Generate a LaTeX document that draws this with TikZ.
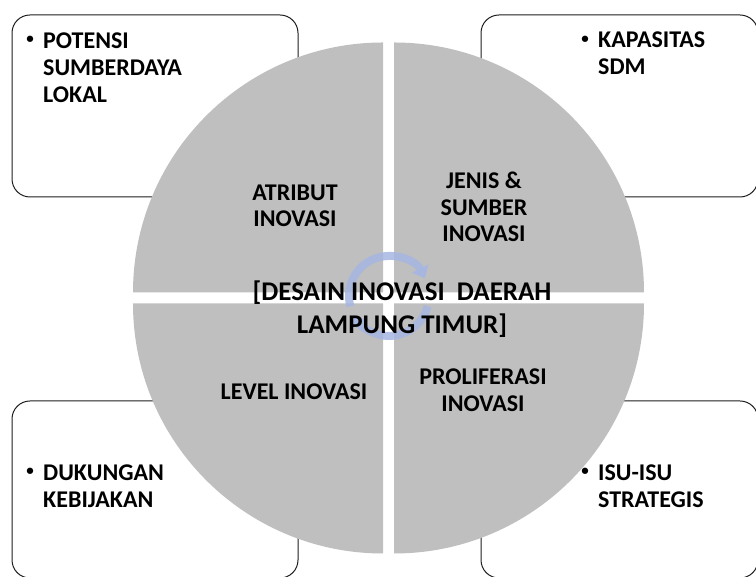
\documentclass[tikz,border=0pt]{standalone}
\usepackage{fontspec}
\setmainfont{Carlito}
\usetikzlibrary{arrows.meta}
\definecolor{quadgray}{RGB}{191,191,191}
\definecolor{arrowblue}{RGB}{166,182,226}
\definecolor{boxline}{RGB}{30,30,30}
\tikzset{
  sidebox/.style={draw=boxline, line width=1pt, fill=white, rounded corners=18pt},
  quad/.style={fill=quadgray},
  quadlabel/.style={align=center, inner sep=0pt, font=\bfseries\fontsize{24}{26.5}\selectfont},
  bullettext/.style={align=left, anchor=north west, inner sep=0pt, font=\bfseries\fontsize{24}{27}\selectfont},
  bulletdot/.style={inner sep=0pt, font=\bfseries\fontsize{15}{18}\selectfont},
  cyclearrow/.style={draw=arrowblue, line width=8pt, opacity=0.85, -{Triangle[width=18pt,length=11pt]}},
  centerlabel/.style={align=center, inner sep=0pt, font=\bfseries\fontsize{27}{33}\selectfont}
}
\begin{document}
\begin{tikzpicture}[x=1pt,y=1pt]
\useasboundingbox (0,0) rectangle (756,577);
% side boxes
\draw[sidebox] (12,562) rectangle (298,380);
\draw[sidebox] (481,562) rectangle (758,380);
\draw[sidebox] (12,176) rectangle (298,-1);
\draw[sidebox] (481,176) rectangle (758,-1);
% bullet texts
\node[bulletdot] (dTL) at (30,537) {\textbullet};
\node[bullettext] (tTL) at (43,544.5) {POTENSI\\SUMBERDAYA\\LOKAL};
\node[bulletdot] (dTR) at (585,537) {\textbullet};
\node[bullettext] (tTR) at (598,545.5) {KAPASITAS\\SDM};
\node[bulletdot] (dBL) at (30,105) {\textbullet};
\node[bullettext] (tBL) at (43,112.5) {DUKUNGAN\\KEBIJAKAN};
\node[bulletdot] (dBR) at (585,105) {\textbullet};
\node[bullettext] (tBR) at (598,112.5) {ISU-ISU\\STRATEGIS};
% quadrants
\coordinate (cTL) at (383,284.5);
\coordinate (cTR) at (394,284.5);
\coordinate (cBL) at (383,273.5);
\coordinate (cBR) at (394,273.5);
\fill[quad] (cTL) -- ++(-250,0) arc[start angle=180,end angle=90,radius=250] -- cycle;
\fill[quad] (cTR) -- ++(0,250) arc[start angle=90,end angle=0,radius=250] -- cycle;
\fill[quad] (cBL) -- ++(0,-250) arc[start angle=270,end angle=180,radius=250] -- cycle;
\fill[quad] (cBR) -- ++(250,0) arc[start angle=0,end angle=-90,radius=250] -- cycle;
% quadrant labels
\node[quadlabel] (qTL) at (295,371) {ATRIBUT\\INOVASI};
\node[quadlabel] (qTR) at (484,370) {JENIS \&\\SUMBER\\INOVASI};
\node[quadlabel] (qBL) at (294,185) {LEVEL INOVASI};
\node[quadlabel] (qBR) at (483,187) {PROLIFERASI\\INOVASI};
% central cycle arrows
\coordinate (cc) at (389,281);
\draw[cyclearrow] ([shift={(195:40)}]cc) arc[start angle=195,end angle=26,radius=40];
\draw[cyclearrow] ([shift={(-15:40)}]cc) arc[start angle=-15,end angle=-152,radius=40];
% central label
\node[centerlabel] (ctr) at (402,268) {[DESAIN INOVASI\ \ DAERAH\\LAMPUNG TIMUR]};
\end{tikzpicture}
\end{document}
